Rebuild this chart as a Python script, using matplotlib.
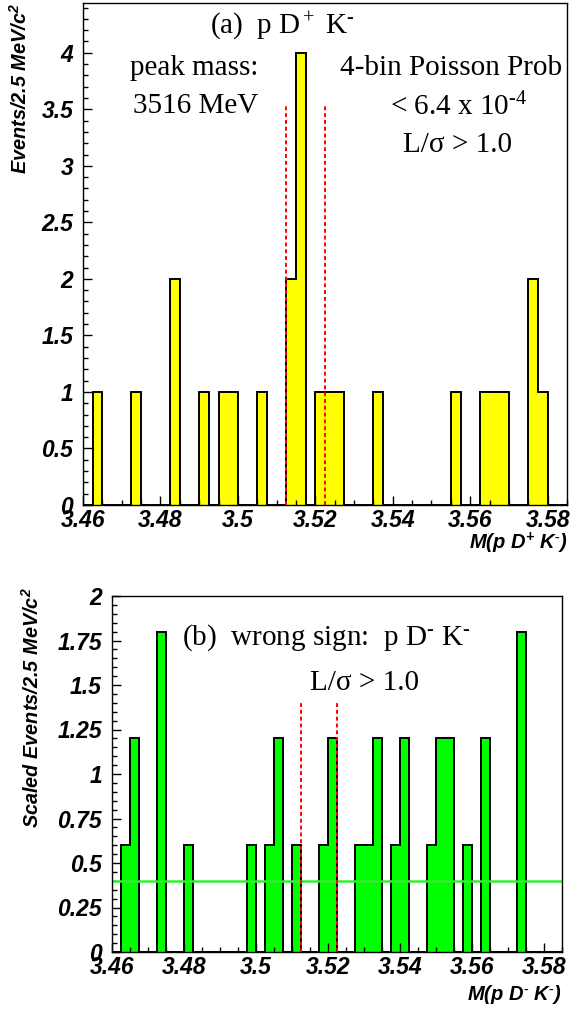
import numpy as np
import matplotlib.pyplot as plt
from matplotlib.ticker import MultipleLocator

plt.rcParams['mathtext.fontset'] = 'custom'
plt.rcParams['mathtext.rm'] = 'Liberation Serif'
plt.rcParams['mathtext.it'] = 'Liberation Serif:italic'
plt.rcParams['mathtext.bf'] = 'Liberation Sans:italic:bold'

# binning: 2.5 MeV bins from 3.46 to 3.585 GeV
m_lo = 3.46
bin_w = 0.0025
n_bins = 50
edges = m_lo + bin_w * np.arange(n_bins + 1)

# (a) right sign p D+ K-
counts_a = [0, 1, 0, 0, 0, 1, 0, 0, 0, 2,
            0, 0, 1, 0, 1, 1, 0, 0, 1, 0,
            0, 2, 4, 0, 1, 1, 1, 0, 0, 0,
            1, 0, 0, 0, 0, 0, 0, 0, 1, 0,
            0, 1, 1, 1, 0, 0, 2, 1, 0, 0]

# (b) wrong sign p D- K-, scaled
counts_b = [0, 0.6, 1.2, 0, 0, 1.8, 0, 0, 0.6, 0,
            0, 0, 0, 0, 0, 0.6, 0, 0.6, 1.2, 0,
            0.6, 0, 0, 0.6, 1.2, 0, 0, 0.6, 0.6, 1.2,
            0, 0.6, 1.2, 0, 0, 0.6, 1.2, 1.2, 0, 0.6,
            0, 1.2, 0, 0, 0, 1.8, 0, 0, 0, 0]
level_b = 0.4

window = [3.5125, 3.5225]
win_top_a = 3.55
win_top_b = 1.4

W, H = 587, 1010
fig = plt.figure(figsize=(W / 100, H / 100), dpi=100, facecolor='w')

def box(l, t, r, b):
    return [l / W, 1 - b / H, (r - l) / W, (b - t) / H]

def ftext(x, y, s, **kw):
    fig.text(x / W, 1 - y / H, s, **kw)

tickfont = dict(family='Liberation Sans', weight='bold', style='italic', size=16.5)

def style_axes(ax, ymax, ymaj, ymin):
    ax.set_xlim(edges[0], edges[-1])
    ax.set_ylim(0, ymax)
    ax.xaxis.set_major_locator(MultipleLocator(0.02))
    ax.xaxis.set_minor_locator(MultipleLocator(0.005))
    ax.yaxis.set_major_locator(MultipleLocator(ymaj))
    ax.yaxis.set_minor_locator(MultipleLocator(ymin))
    ax.xaxis.set_major_formatter(plt.FuncFormatter(lambda v, p: ('%g' % round(v, 4))))
    ax.yaxis.set_major_formatter(plt.FuncFormatter(lambda v, p: ('%g' % round(v, 4))))
    ax.tick_params(which='both', direction='in', top=False, right=False, width=1)
    ax.tick_params(which='major', length=6.5)
    ax.tick_params(which='minor', length=3.5)
    ax.tick_params(axis='x', which='major', pad=3)
    ax.tick_params(axis='y', which='major', pad=7)
    for lab in ax.get_xticklabels() + ax.get_yticklabels():
        lab.set_fontproperties(tickfont)
    for sp in ax.spines.values():
        sp.set_linewidth(1.0)

# ---- panel (a)
ax1 = fig.add_axes(box(83, 3, 567, 505))
ax1.stairs(counts_a, edges, fill=True, color='#ffff00')
ax1.stairs(counts_a, edges, baseline=0, color='black', lw=1.4)
for xw in window:
    ax1.plot([xw, xw], [0, win_top_a], color='red', lw=1.4, ls=(0, (2, 1.5)))
style_axes(ax1, 4.44, 0.5, 0.1)

ftext(20, 3, r'Events/2.5 MeV/c$^{\mathbf{2}}$', rotation=90, ha='center', va='top',
      family='Liberation Sans', weight='bold', style='italic', size=14.3)
ftext(567, 543, r'M(p D$^{\mathbf{+}}$ K$^{\text{-}}$)', ha='right', va='center',
      family='Liberation Sans', weight='bold', style='italic', size=14.5)

serif = dict(family='Liberation Serif', size=21, va='baseline')
ftext(210, 33, r'(a)  p D$^+$ K$^{\text{-}}$', **serif)
ftext(130, 75, 'peak mass:', **serif)
ftext(133, 113, '3516 MeV', **serif)
ftext(340, 75, '4-bin Poisson Prob', **serif)
ftext(390, 115, r'< 6.4 x 10$^{\text{-4}}$', **serif)
ftext(403, 152, 'L/σ > 1.0', **serif)

# ---- panel (b)
ax2 = fig.add_axes(box(111.7, 596, 562, 952))
ax2.stairs(counts_b, edges, fill=True, color='#00ff00')
ax2.stairs(counts_b, edges, baseline=0, color='black', lw=1.4)
ax2.plot([edges[0], edges[-1]], [level_b, level_b], color='#33ee33', lw=1.8)
for xw in window:
    ax2.plot([xw, xw], [0, win_top_b], color='red', lw=1.4, ls=(0, (2, 1.5)))
style_axes(ax2, 2.0, 0.25, 0.05)

ftext(32, 587, r'Scaled Events/2.5 MeV/c$^{\mathbf{2}}$', rotation=90, ha='center', va='top',
      family='Liberation Sans', weight='bold', style='italic', size=14.3)
ftext(562, 995, r'M(p D$^{\text{-}}$ K$^{\text{-}}$)', ha='right', va='center',
      family='Liberation Sans', weight='bold', style='italic', size=14.5)

ftext(182, 645, r'(b)  wrong sign:  p D$^{\text{-}}$ K$^{\text{-}}$', **serif)
ftext(310, 690, 'L/σ > 1.0', **serif)

fig.savefig('out.png', dpi=100)
